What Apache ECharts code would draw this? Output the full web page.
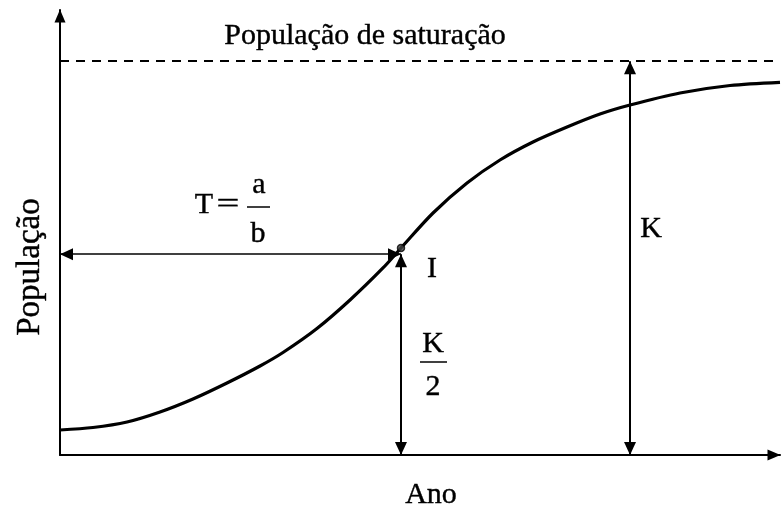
<!DOCTYPE html>
<html>
<head>
<meta charset="utf-8">
<script src="https://cdn.jsdelivr.net/npm/echarts@6/dist/echarts.min.js"></script>
<style>
  html, body { margin: 0; padding: 0; background: #fff; }
  #chart { width: 782px; height: 506px; }
</style>
</head>
<body>
<div id="chart"></div>
<script>
// Logistic growth curve: population over years, saturating at K.
const anos = [0, 4.58, 9.31, 13.89, 18.47, 23.19, 27.78, 30.97, 35.69, 40.28, 44.86, 47.36,
              51.81, 56.53, 61.11, 65.69, 70.42, 75, 79.17, 86.11, 93.06, 100];
const populacao = [6.35, 6.98, 8.38, 10.92, 14.22, 18.28, 22.6, 26.03, 32.12, 39.36, 47.49, 52.57,
                   61.45, 69.07, 74.91, 79.48, 83.29, 86.59, 88.88, 91.93, 93.83, 94.64];

// Saturation level K
const saturacao = [100];
// Inflection point I (year, population) and the K/2 level the arrows mark
const inflexao = [47.36, 52.57];
const meioK = [51.0];
// Year where the K arrow is drawn
const anoK = [79.17];

const K = saturacao[0];
const xI = inflexao[0];
const yMeio = meioK[0];
const xK = anoK[0];

const FONT = '"Liberation Serif", "DejaVu Serif", serif';
const INK = '#000';

const chart = echarts.init(document.getElementById('chart'), null, { renderer: 'canvas' });

// arrow heads: filled triangles pulled back so their tips sit on the line ends
const head = 'triangle';
const headSize = [12, 13];
const headOffset = [[0, 6.5], [0, 6.5]];

function label(text, x, y, opts) {
  opts = opts || {};
  return {
    type: 'text', x: x, y: y,
    rotation: opts.rotation || 0,
    scaleX: opts.scaleX || 1,
    style: {
      text: text,
      font: (opts.size || 30) + 'px ' + FONT,
      fill: INK, stroke: INK, lineWidth: 0.4,
      align: opts.align || 'center',
      verticalAlign: 'middle'
    }
  };
}

function arrow(from, to, width) {
  return [
    { coord: from, lineStyle: { type: 'solid', width: width, color: INK } },
    { coord: to }
  ];
}

const axisLine = {
  show: true,
  symbol: ['none', 'triangle'],
  symbolSize: [11, 13],
  symbolOffset: [0, -6],
  lineStyle: { color: INK, width: 2 }
};

const markLineBase = {
  silent: true,
  animation: false,
  label: { show: false },
  emphasis: { disabled: true }
};

chart.setOption({
  animation: false,
  backgroundColor: '#fff',
  grid: { left: 60, right: 2, top: 10, bottom: 51 },
  xAxis: {
    type: 'value', min: 0, max: 100,
    axisLine: axisLine,
    axisTick: { show: false }, axisLabel: { show: false }, splitLine: { show: false }
  },
  yAxis: {
    type: 'value', min: 0, max: 113,
    axisLine: axisLine,
    axisTick: { show: false }, axisLabel: { show: false }, splitLine: { show: false }
  },
  series: [
    {
      type: 'line',
      data: anos.map((a, i) => [a, populacao[i]]),
      smooth: 0.3,
      showSymbol: false,
      lineStyle: { color: INK, width: 3.2 },
      silent: true,
      // saturation level (dashed)
      markLine: Object.assign({}, markLineBase, {
        symbol: 'none',
        lineStyle: { type: [9, 7], width: 2.2, color: INK },
        data: [[{ coord: [0, K] }, { coord: [100, K] }]]
      })
    },
    {
      type: 'line',
      data: [],
      silent: true,
      markLine: Object.assign({}, markLineBase, {
        symbol: [head, head],
        symbolSize: headSize,
        symbolOffset: headOffset,
        lineStyle: { type: 'solid', width: 2, color: INK },
        data: [
          // K: from the axis up to saturation
          arrow([xK, 0], [xK, K], 2),
          // T = a/b: from the population axis to the inflection point
          arrow([0, yMeio], [xI, yMeio], 1.5),
          // K/2: from the inflection point down to the axis
          arrow([xI, yMeio], [xI, 0], 2)
        ]
      })
    },
    {
      type: 'scatter',
      data: [inflexao],
      symbol: 'circle',
      symbolSize: 7,
      z: 5,
      itemStyle: { color: '#444', borderColor: INK, borderWidth: 1.5 },
      silent: true
    }
  ],
  graphic: [
    label('População de saturação', 365, 36.5),
    label('População', 30, 267, { rotation: Math.PI / 2, size: 33 }),
    label('Ano', 431, 495.5),
    // T = a/b
    label('T', 204, 205.5),
    label('=', 228, 205.5, { scaleX: 1.35 }),
    label('a', 259, 185.5),
    { type: 'line', shape: { x1: 247, y1: 207, x2: 270, y2: 207 }, style: { stroke: INK, lineWidth: 1.5 } },
    label('b', 258, 234.5),
    // inflection point
    label('I', 432, 269.5),
    // K
    label('K', 651, 229.5),
    // K/2
    label('K', 433, 344.5),
    { type: 'line', shape: { x1: 420, y1: 362, x2: 447, y2: 362 }, style: { stroke: INK, lineWidth: 1.5 } },
    label('2', 433, 387.5)
  ]
});
</script>
</body>
</html>
